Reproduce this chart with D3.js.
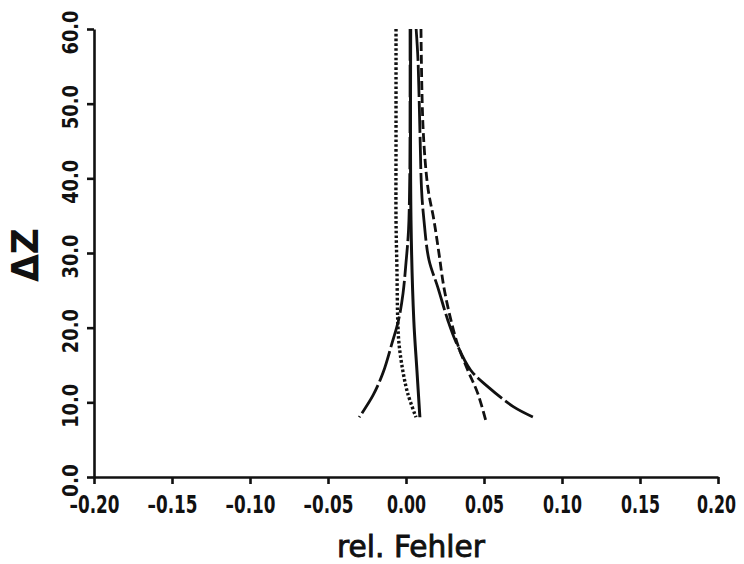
<!DOCTYPE html>
<html>
<head>
<meta charset="utf-8">
<script src="https://cdn.jsdelivr.net/npm/d3@7"></script>
<style>
  html, body { margin: 0; padding: 0; background: #fff; }
  svg { display: block; }
  .lbl { font-family: "DejaVu Sans", sans-serif; fill: #111; }
</style>
</head>
<body>
<svg id="chart" width="744" height="564"></svg>
<script>
// Axis ticks and labels
const xTicks = [-0.20, -0.15, -0.10, -0.05, 0.00, 0.05, 0.10, 0.15, 0.20];
const xTickLabels = ["–0.20", "–0.15", "–0.10", "–0.05", "0.00", "0.05", "0.10", "0.15", "0.20"];
const yTicks = [0, 10, 20, 30, 40, 50, 60];
const yTickLabels = ["0.0", "10.0", "20.0", "30.0", "40.0", "50.0", "60.0"];

// Relative error against ΔZ, one pair of arrays per curve
const dzDotted  = [60, 45, 34.4, 27.7, 21, 17.9, 14.3, 11.2, 8.0];
const errDotted = [-0.0064, -0.0064, -0.0064, -0.0058, -0.0053, -0.0045, -0.0021, 0.0011, 0.0064];

const dzSolid  = [60, 34.4, 21, 14.3, 8.0];
const errSolid = [0.0030, 0.0032, 0.0050, 0.0070, 0.0089];

const dzDashed  = [60, 46.5, 38.8, 34.4, 30, 25.4, 21, 17.7, 14.3, 11.2, 7.6];
const errDashed = [0.0096, 0.0110, 0.0140, 0.0179, 0.0211, 0.0243, 0.0288, 0.0332, 0.0396, 0.0460, 0.0511];

const dzLongRight  = [60, 55.8, 46.5, 38.4, 34.4, 29.1, 25.4, 21, 18.1, 14.3, 12.1, 9.4, 8.0];
const errLongRight = [0.0065, 0.0077, 0.0089, 0.0100, 0.0115, 0.0147, 0.0204, 0.0268, 0.0320, 0.0415, 0.0524, 0.0690, 0.0818];

const dzLongLeft  = [60, 50.5, 40, 33, 28.7, 24.6, 21, 17.9, 14.1, 11.0, 8.0];
const errLongLeft = [0.0026, 0.0026, 0.0024, 0.0016, 0.0000, -0.0019, -0.0048, -0.0090, -0.0145, -0.0210, -0.0300];

const svg = d3.select("#chart");

const x = d3.scaleLinear().domain([-0.2, 0.2]).range([94, 718]);
const y = d3.scaleLinear().domain([0, 60]).range([477, 29]);

// squeeze a text horizontally (in its own frame) to a target width
function squeeze(sel, width, prefix) {
  sel.each(function(d, i) {
    const natural = this.getComputedTextLength();
    const sx = width(d, i) / natural;
    d3.select(this).attr("transform", `${prefix(d, i)} scale(${sx.toFixed(3)},1)`);
  });
}

// x axis
const gx = svg.append("g").attr("transform", `translate(0,${y(0)})`)
  .call(d3.axisBottom(x).tickValues(xTicks).tickSize(7).tickSizeOuter(0)
    .tickFormat((d, i) => xTickLabels[i]));
gx.select(".domain").attr("stroke", "#111").attr("stroke-width", 2.6);
gx.selectAll(".tick line").attr("stroke", "#111").attr("stroke-width", 2.6);
gx.selectAll(".tick text")
  .attr("class", "lbl")
  .attr("y", 0).attr("dy", null)
  .style("font-size", "24px").style("font-weight", "bold")
  .attr("fill", "#111")
  .call(squeeze,
        (d, i) => xTickLabels[i].length === 5 ? 50 : 39,
        (d, i) => `translate(${i === xTicks.length - 1 ? -2 : 0},36)`);

// y axis
const gy = svg.append("g").attr("transform", `translate(${x(-0.2)},0)`)
  .call(d3.axisLeft(y).tickValues(yTicks).tickSize(7).tickSizeOuter(0)
    .tickFormat((d, i) => yTickLabels[i]));
gy.select(".domain").attr("stroke", "#111").attr("stroke-width", 2.6);
gy.selectAll(".tick line").attr("stroke", "#111").attr("stroke-width", 2.6);
gy.selectAll(".tick text")
  .attr("class", "lbl")
  .attr("x", 0).attr("dy", null)
  .attr("text-anchor", "middle")
  .style("font-size", "22px").style("font-weight", "bold")
  .attr("fill", "#111")
  .call(squeeze,
        (d, i) => yTickLabels[i].length === 4 ? 44 : 33,
        () => "translate(-16,3) rotate(-90)");

// axis titles
svg.append("text").attr("class", "lbl")
  .attr("text-anchor", "middle")
  .style("font-size", "31px")
  .attr("stroke", "#111").attr("stroke-width", 0.9)
  .text("rel. Fehler")
  .call(squeeze, () => 148, () => "translate(411,557)");

svg.append("text").attr("class", "lbl")
  .attr("text-anchor", "middle")
  .style("font-size", "38px").style("font-weight", "bold")
  .text("ΔZ")
  .call(squeeze, () => 54, () => "translate(38,255) rotate(-90)");

// curves
const line = d3.line()
  .x(d => x(d[1]))
  .y(d => y(d[0]))
  .curve(d3.curveCatmullRom.alpha(0.5));

const series = [
  { dz: dzDotted,    err: errDotted,    dash: "2.6,2.2", width: 3.4 },
  { dz: dzLongLeft,  err: errLongLeft,  dash: "32,4",    width: 2.8 },
  { dz: dzLongRight, err: errLongRight, dash: "32,4",    width: 2.8 },
  { dz: dzDashed,    err: errDashed,    dash: "9,4",     width: 2.8 },
  { dz: dzSolid,     err: errSolid,     dash: null,      width: 3.0 }
];

svg.append("g").selectAll("path")
  .data(series)
  .join("path")
  .attr("d", s => line(s.dz.map((d, i) => [d, s.err[i]])))
  .attr("fill", "none")
  .attr("stroke", "#111")
  .attr("stroke-width", s => s.width)
  .attr("stroke-dasharray", s => s.dash)
  .attr("stroke-linecap", "butt");
</script>
</body>
</html>
